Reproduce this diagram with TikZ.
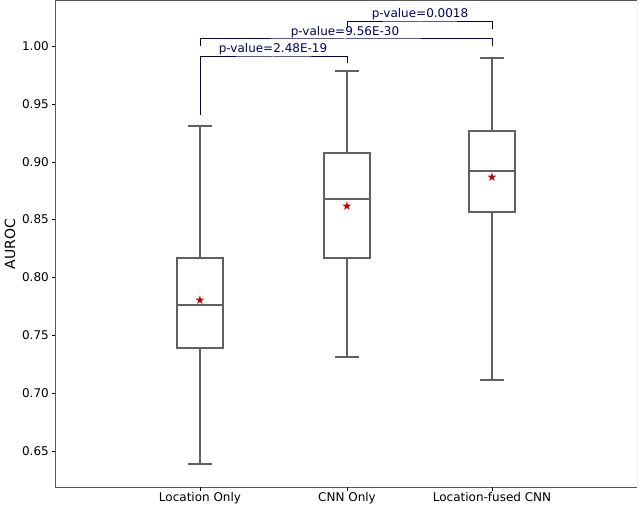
\documentclass[tikz,border=0pt]{standalone}
\usepackage{fontspec}
\setmainfont{DejaVu Sans}
\begin{document}
\begin{tikzpicture}[x=1pt,y=-1pt,
  bx/.style={draw=gray!75!black,line width=2.6pt,fill=none},
  wh/.style={draw=gray!75!black,line width=2.6pt},
  br/.style={draw=blue!40!black,line width=1pt},
  pv/.style={text=blue!40!black,font=\fontsize{12}{13}\selectfont,inner sep=0.5pt,anchor=base},
  tk/.style={font=\fontsize{12}{13}\selectfont,anchor=east,inner sep=1pt},
  xl/.style={font=\fontsize{12}{13}\selectfont,anchor=north,inner sep=1pt},
  st/.style={text=red!75!black,font=\fontsize{12}{12}\selectfont,inner sep=0pt}]
\useasboundingbox (0,0) rectangle (640,505);
\draw[gray!12,line width=1pt] (637,1) -- (637,487);
\draw[gray!70!black,line width=1pt] (637,1) -- (55,1) -- (55,487) -- (637,487);
\foreach \v/\y in {1.00/46,0.95/104,0.90/162,0.85/219,0.80/277,0.75/335,0.70/393,0.65/451}{
  \draw[line width=0.6pt] (52,\y) -- (55,\y);
  \node[tk] (t\v) at (50,\y) {\v};}
\node[rotate=90,font=\fontsize{14}{15}\selectfont] (yl) at (10,244) {AUROC};
\foreach \x/\n/\t in {200/a/Location Only,347/b/CNN Only,492/c/Location-fused CNN}{
  \draw[line width=0.6pt] (\x,487) -- (\x,491);
  \node[xl] (x\n) at (\x,491) {\t};}
\foreach \x/\a/\b/\c/\d/\e/\m in {200/126/258/305/348/464/300,347/71/153/199/258/357/206,492/58/131/171/212/380/177}{
  \draw[wh] (\x,\a) -- (\x,\b) (\x,\d) -- (\x,\e);
  \draw[wh] (\x-12,\a) -- (\x+12,\a) (\x-12,\e) -- (\x+12,\e);
  \draw[bx] (\x-23,\b) rectangle (\x+23,\d);
  \draw[wh] (\x-23,\c) -- (\x+23,\c);
  \node[st] at (\x,\m) {★};}
\coordinate (p1a) at (200,115); \coordinate (p1b) at (347,63);
\draw[br] (p1a) |- (273,57) -| (p1b);
\node[pv] (p1) at (273,53) {p-value=2.48E-19};
\coordinate (p2a) at (200,46); \coordinate (p2b) at (492,46);
\draw[br] (p2a) |- (345,39) -| (p2b);
\node[pv] (p2) at (345,36) {p-value=9.56E-30};
\coordinate (p3a) at (347,28); \coordinate (p3b) at (492,29);
\draw[br] (p3a) |- (420,22) -| (p3b);
\node[pv] (p3) at (420,18) {p-value=0.0018};
\end{tikzpicture}
\end{document}
